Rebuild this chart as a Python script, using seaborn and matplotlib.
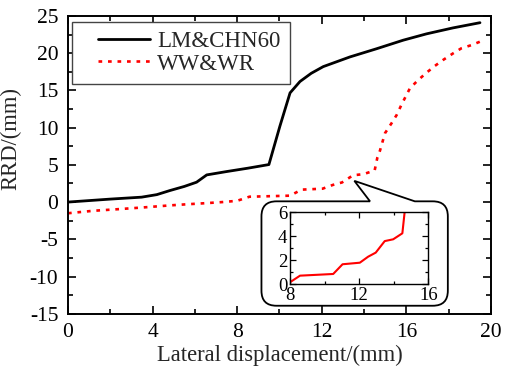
import numpy as np
import pandas as pd
import matplotlib
matplotlib.use("Agg")
import matplotlib.pyplot as plt
import seaborn as sns
from matplotlib.lines import Line2D
from matplotlib.legend_handler import HandlerLine2D
from matplotlib.path import Path
from matplotlib.patches import PathPatch
from matplotlib.ticker import MultipleLocator

# LM&CHN60 rail profile
lm_x = [0.0, 1.0, 2.0, 3.48, 4.2, 4.82, 5.5, 6.08, 6.56, 7.5, 8.5, 9.5,
        10.02, 10.5, 10.97, 11.5, 12.07, 13.33, 14.59, 15.85, 16.95, 18.2, 19.48]
lm_y = [0.0, 0.2, 0.4, 0.66, 1.0, 1.55, 2.1, 2.67, 3.65, 4.1, 4.55, 5.04,
        10.2, 14.67, 16.2, 17.3, 18.2, 19.5, 20.6, 21.75, 22.6, 23.4, 24.1]

# WW&WR rail profile
ww_x = [0.0, 1.2, 2.4, 3.56, 4.8, 5.6, 6.56, 7.3, 8.0, 8.58, 10.5, 11.04,
        12.04, 12.52, 12.96, 13.48, 13.97, 14.5, 14.63, 14.75, 14.99, 15.3,
        15.54, 15.78, 16.17, 16.56, 16.96, 17.35, 17.74, 18.22, 18.6, 19.09, 19.48]
ww_y = [-1.5, -1.17, -0.95, -0.72, -0.45, -0.3, -0.14, 0.0, 0.17, 0.72, 0.86, 1.67,
        1.8, 2.3, 2.64, 3.6, 3.75, 4.25, 6.0, 6.9, 9.26, 10.6,
        11.7, 13.15, 15.3, 16.4, 17.4, 18.3, 19.1, 20.0, 20.66, 21.1, 21.55]

x_ticks = [0, 4, 8, 12, 16, 20]
y_ticks = [-15, -10, -5, 0, 5, 10, 15, 20, 25]
inset_x_ticks = [8, 12, 16]
inset_y_ticks = [0, 2, 4, 6]

sns.set_theme(style="ticks")
plt.rcParams["font.family"] = ["Liberation Serif", "DejaVu Serif"]
plt.rcParams["axes.unicode_minus"] = False

df = pd.concat([
    pd.DataFrame({"x": lm_x, "y": lm_y, "profile": "LM&CHN60"}),
    pd.DataFrame({"x": ww_x, "y": ww_y, "profile": "WW&WR"}),
], ignore_index=True)

fig = plt.figure(figsize=(5.1, 3.81), dpi=100)
ax = fig.add_axes([0.1333, 0.1766, 0.8294, 0.7814])

sns.lineplot(data=df[df.profile == "LM&CHN60"], x="x", y="y", ax=ax,
             color="black", linewidth=2.0, estimator=None, sort=False,
             label="LM&CHN60")
sns.lineplot(data=df[df.profile == "WW&WR"], x="x", y="y", ax=ax,
             color="#ff0000", linewidth=1.9, estimator=None, sort=False,
             label="WW&WR")
red_line = ax.get_lines()[1]
red_line.set_linestyle((0, (1.4, 2.2)))
red_line.set_dash_capstyle("butt")

ax.set_xlim(0, 20)
ax.set_ylim(-15, 25)
ax.set_xticks(x_ticks)
ax.set_yticks(y_ticks)
ax.xaxis.set_minor_locator(MultipleLocator(2))
ax.yaxis.set_minor_locator(MultipleLocator(2.5))
ax.tick_params(which="both", direction="in", top=True, right=True,
               colors="black", labelsize=15.5, width=1.2)
ax.tick_params(which="major", length=6, pad=7)
ax.tick_params(which="minor", length=3.5)
for s in ax.spines.values():
    s.set_linewidth(1.4)
    s.set_color("black")

ax.set_xlabel("Lateral displacement/(mm)", fontsize=16.3, labelpad=2)
ax.set_ylabel("RRD/(mm)", fontsize=16.3)
ax.yaxis.set_label_coords(-0.111, 0.59)

handles, labels = ax.get_legend_handles_labels()
leg = ax.legend(handles, labels, loc="upper left",
                bbox_to_anchor=(0.0087, 0.981), borderaxespad=0,
                fontsize=16.5, frameon=True, fancybox=False, framealpha=1,
                edgecolor="#444444", borderpad=0.42, handlelength=3.0,
                handletextpad=0.3, labelspacing=0.05,
                handler_map={Line2D: HandlerLine2D(xpad=0.72)})
leg.get_frame().set_linewidth(1.0)

# speech-bubble frame around the zoomed view
L, R, T, B = 0.4574, 0.898, 0.3775, 0.0268
rx, ry = 0.0355, 0.0503
a, b = 0.714, 0.820
tip = ax.transAxes.inverted().transform(ax.transData.transform((13.54, 2.85)))
verts = [(a, T), tuple(tip), (b, T), (R - rx, T), (R, T), (R, T - ry),
         (R, B + ry), (R, B), (R - rx, B), (L + rx, B), (L, B), (L, B + ry),
         (L, T - ry), (L, T), (L + rx, T), (a, T)]
codes = [Path.MOVETO, Path.LINETO, Path.LINETO, Path.LINETO, Path.CURVE3, Path.CURVE3,
         Path.LINETO, Path.CURVE3, Path.CURVE3, Path.LINETO, Path.CURVE3, Path.CURVE3,
         Path.LINETO, Path.CURVE3, Path.CURVE3, Path.CLOSEPOLY]
bubble = PathPatch(Path(verts, codes), transform=ax.transAxes, facecolor="white",
                   edgecolor="black", linewidth=1.3, zorder=3, clip_on=False)
ax.add_patch(bubble)

# zoomed view of WW&WR
axin = fig.add_axes([0.5686, 0.2538, 0.2712, 0.189])
sns.lineplot(data=df[df.profile == "WW&WR"], x="x", y="y", ax=axin,
             color="#ff0000", linewidth=1.5, estimator=None, sort=False)
axin.set_xlim(8, 16)
axin.set_ylim(0, 6)
axin.set_xticks(inset_x_ticks)
axin.set_yticks(inset_y_ticks)
axin.xaxis.set_minor_locator(MultipleLocator(2))
axin.yaxis.set_minor_locator(MultipleLocator(1))
axin.tick_params(which="both", direction="in", top=True, right=True,
                 colors="black", labelsize=13.5, width=0.9, pad=2)
axin.tick_params(which="major", length=4)
axin.tick_params(which="minor", length=2.5)
axin.set_xlabel("")
axin.set_ylabel("")
for s in axin.spines.values():
    s.set_linewidth(1.0)
    s.set_color("black")

fig.savefig("out.png", dpi=100)
